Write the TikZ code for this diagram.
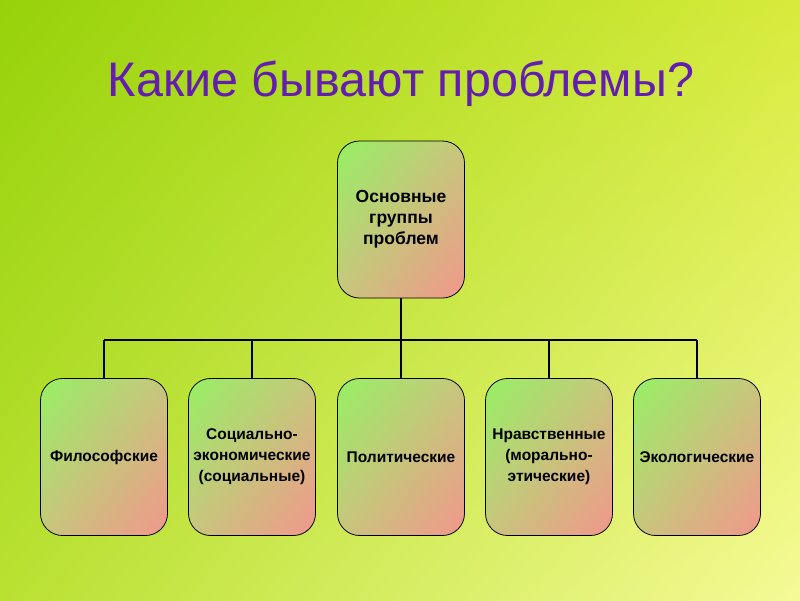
\documentclass[tikz,border=0pt]{standalone}
\usepackage{fontspec}
\setmainfont{Liberation Sans}
\usepackage{tikz}
\usetikzlibrary{calc, shadings}
\definecolor{bgtl}{RGB}{150,210,10}
\definecolor{bgtr}{RGB}{215,235,60}
\definecolor{bgbl}{RGB}{185,225,50}
\definecolor{bgbr}{RGB}{245,250,150}
\definecolor{boxgreen}{RGB}{150,240,100}
\definecolor{boxpink}{RGB}{242,150,140}
\definecolor{boxmid}{RGB}{200,198,125}
\definecolor{titlepurple}{RGB}{100,30,175}
\tikzstyle{group} = [draw, line width=0.8pt, rounded corners=22pt, minimum width=127pt, minimum height=157pt, text width=126pt, align=center, inner sep=0pt, upper left=boxgreen, lower right=boxpink, upper right=boxmid, lower left=boxmid, font=\bfseries\fontsize{15.5}{21}\selectfont]
\tikzstyle{link} = [line width=2pt]

\begin{document}
\begin{tikzpicture}[x=1pt, y=-1pt]
    \shade[upper left=bgtl, upper right=bgtr, lower left=bgbl, lower right=bgbr] (0,0) rectangle (800,600);
    \useasboundingbox (0,0) rectangle (800,600);
    \draw (401,96) node[anchor=base, text=titlepurple, font=\fontsize{48.5}{56}\selectfont] (title) {Какие бывают проблемы?};
    \coordinate (bus) at (401,340);
    \draw[link] (401,298) -- (bus);
    \draw (401,219.5) node[group, font=\bfseries\fontsize{17.5}{21}\selectfont] (main) {Основные\\группы\\проблем};
    \draw (104,457) node[group] (phil) {Философские};
    \draw (252,457) node[group] (soc) {Социально-\\экономические\\(социальные)};
    \draw (401,457) node[group] (pol) {Политические};
    \draw (549,457) node[group] (mor) {Нравственные\\(морально-\\этические)};
    \draw (697,457) node[group] (eco) {Экологические};
    \draw[link] (phil.north |- bus) -- (eco.north |- bus);
    \foreach \n in {phil,soc,pol,mor,eco}
        \draw[link] (bus -| \n.north) -- (\n.north);
\end{tikzpicture}
\end{document}
